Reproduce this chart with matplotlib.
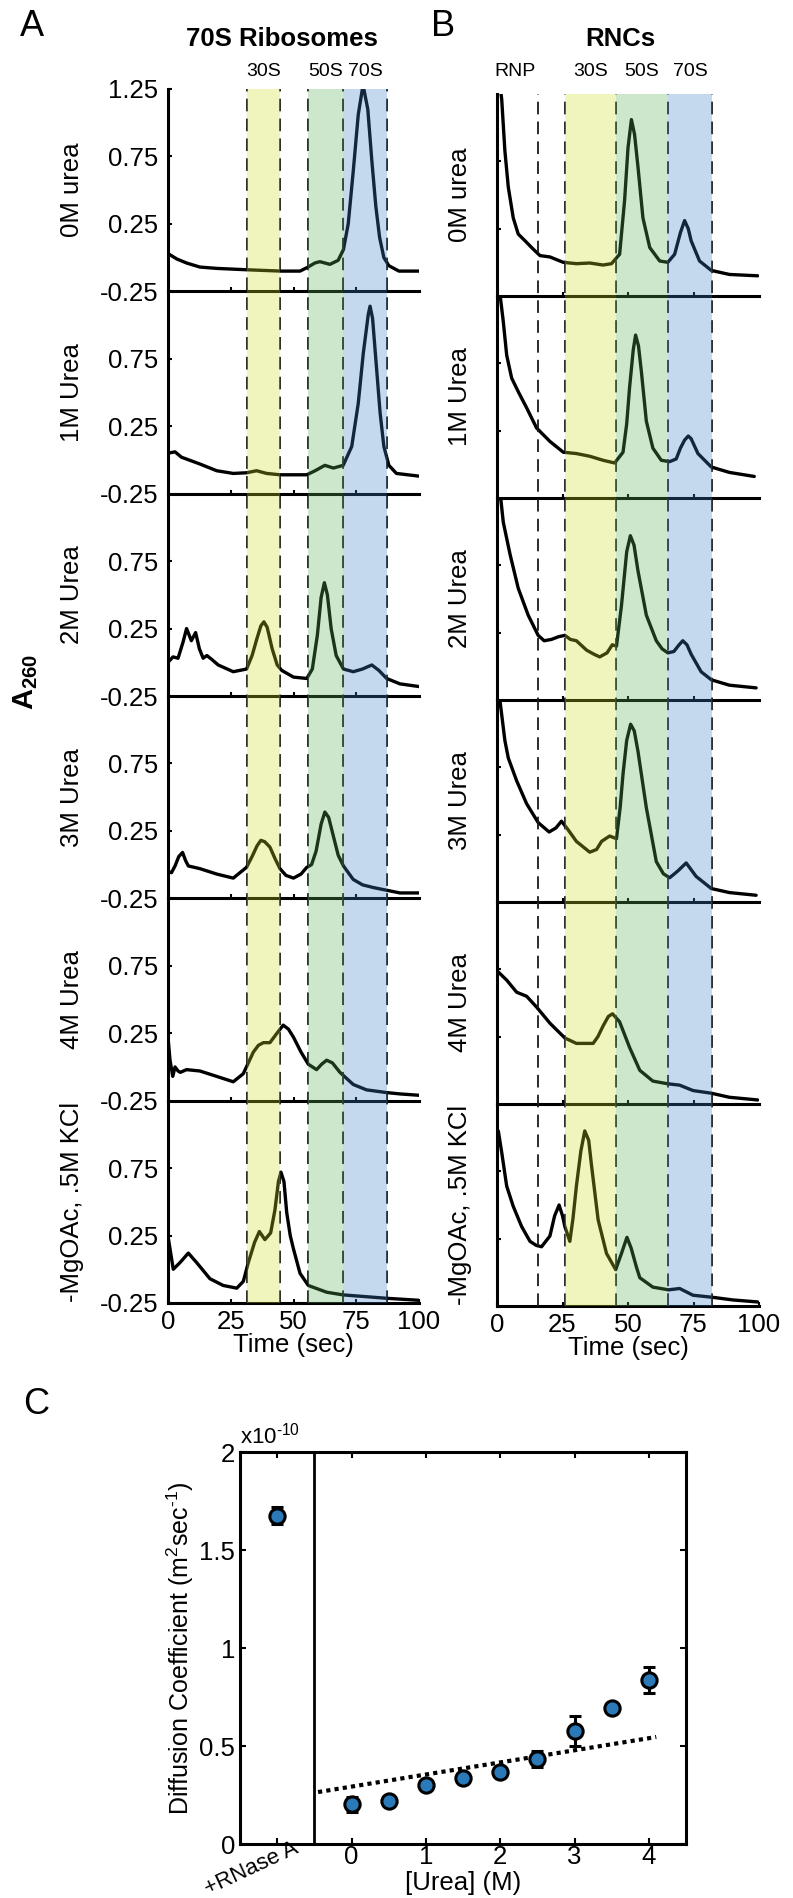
import matplotlib
matplotlib.use('Agg')
import matplotlib.pyplot as plt
from matplotlib.transforms import blended_transform_factory

plt.rcParams['font.family'] = ['Liberation Sans', 'DejaVu Sans']
plt.rcParams['mathtext.fontset'] = 'custom'
plt.rcParams['mathtext.rm'] = 'Liberation Sans'
plt.rcParams['mathtext.bf'] = 'Liberation Sans:bold'
plt.rcParams['mathtext.it'] = 'Liberation Sans:italic'

# ---- panel A : 70S ribosomes (time in sec, A260) ----
ribo_0M_t = [0, 3.5, 7.4, 12.7, 19.4, 31.3, 45, 52.6, 55.8, 58.5, 60.5, 62.5, 64.5, 67.8, 69.9, 71.8, 73.8, 75.8, 77.7, 79.6, 81.2, 82.8, 84.3, 86, 88, 92, 100]
ribo_0M_a = [0.03, -0.01, -0.04, -0.07, -0.08, -0.09, -0.10, -0.10, -0.07, -0.04, -0.03, -0.04, -0.05, -0.02, 0.06, 0.25, 0.64, 1.06, 1.28, 1.10, 0.72, 0.38, 0.15, 0.00, -0.06, -0.10, -0.10]

ribo_1M_t = [0, 2.8, 5.4, 12.7, 19.4, 26, 31.3, 35.3, 39.3, 44.6, 55.3, 58.6, 62.5, 65.9, 69.8, 73.2, 75.8, 77.8, 79.8, 80.5, 81.5, 83, 84.5, 86, 88, 91, 100]
ribo_1M_a = [0.05, 0.06, 0.02, -0.03, -0.08, -0.10, -0.095, -0.08, -0.10, -0.11, -0.11, -0.08, -0.04, -0.06, -0.04, 0.10, 0.42, 0.79, 1.08, 1.14, 1.05, 0.70, 0.35, 0.10, -0.04, -0.10, -0.12]

ribo_2M_t = [0, 2, 4, 6, 7.4, 9.3, 11, 12.5, 14, 15.5, 17.5, 20, 26, 31.3, 33.5, 35.5, 37, 38.2, 39.5, 41.5, 43.5, 45.3, 50, 55.3, 57.5, 59.5, 61, 62.3, 63.5, 65, 67, 69.9, 73.8, 77.5, 81.2, 84, 87.1, 92.4, 100]
ribo_2M_a = [0.00, 0.04, 0.03, 0.15, 0.25, 0.16, 0.22, 0.10, 0.03, 0.05, 0.02, -0.02, -0.07, -0.05, 0.05, 0.18, 0.27, 0.30, 0.26, 0.10, -0.02, -0.06, -0.11, -0.12, -0.05, 0.20, 0.48, 0.59, 0.50, 0.25, 0.05, -0.05, -0.07, -0.05, -0.02, -0.06, -0.12, -0.16, -0.18]

ribo_3M_t = [0, 1.4, 2.8, 4.3, 5.8, 7, 8.1, 12.7, 19.4, 26, 31.3, 33.5, 35.5, 37, 38.5, 40.6, 42.5, 44.6, 47, 50, 53, 55.3, 57.2, 59, 61, 62.5, 64, 65.9, 67.8, 69.9, 73.8, 77.5, 81.8, 92.4, 100]
ribo_3M_a = [-0.05, -0.06, -0.01, 0.06, 0.09, 0.03, -0.01, -0.03, -0.07, -0.10, -0.02, 0.06, 0.14, 0.18, 0.17, 0.13, 0.05, -0.03, -0.08, -0.10, -0.07, -0.02, 0.00, 0.10, 0.30, 0.39, 0.35, 0.21, 0.07, -0.01, -0.11, -0.15, -0.17, -0.21, -0.21]

ribo_4M_t = [0, 0.8, 1.9, 2.8, 4, 4.9, 7.4, 12.7, 19.4, 26, 30, 32, 34, 36, 38, 40.6, 43, 45.9, 48, 50, 53, 55.9, 59.2, 61.2, 63.2, 65.5, 68.5, 73.8, 79.1, 87.1, 92.4, 100]
ribo_4M_a = [0.22, 0.05, -0.07, 0.00, -0.03, -0.04, -0.02, -0.03, -0.07, -0.11, -0.05, 0.03, 0.11, 0.16, 0.18, 0.18, 0.24, 0.31, 0.28, 0.22, 0.11, 0.02, -0.02, 0.02, 0.05, 0.03, -0.04, -0.13, -0.17, -0.19, -0.20, -0.21]

ribo_kcl_t = [0, 2.1, 4.8, 8.1, 11.4, 16.7, 22, 27.4, 30, 32, 34.5, 36.4, 38.6, 40.9, 42.6, 44, 45, 46.2, 47.3, 48.7, 50, 52.6, 55.9, 63.2, 69.8, 87.1, 100]
ribo_kcl_a = [0.245, 0.00, 0.05, 0.12, 0.05, -0.07, -0.12, -0.14, -0.09, 0.05, 0.20, 0.28, 0.22, 0.27, 0.44, 0.65, 0.72, 0.65, 0.42, 0.25, 0.15, -0.03, -0.12, -0.17, -0.19, -0.215, -0.23]

# ---- panel B : RNCs ----
rnc_0M_t = [0.3, 1.8, 3, 4.3, 6.2, 8.1, 10.7, 13.2, 16.4, 20.2, 25.3, 30.3, 35.4, 40.5, 43.7, 46.8, 48.7, 50, 51.3, 52.5, 53.8, 55.7, 58.3, 62.1, 65.2, 67.8, 70, 71.6, 73, 74.1, 77.3, 81.8, 88.7, 99.5]
rnc_0M_a = [1.45, 1.21, 0.83, 0.56, 0.33, 0.21, 0.16, 0.11, 0.05, 0.04, 0.00, -0.01, -0.005, -0.02, -0.01, 0.06, 0.46, 0.85, 1.06, 0.95, 0.71, 0.33, 0.11, 0.01, 0.00, 0.06, 0.22, 0.31, 0.25, 0.16, 0.01, -0.06, -0.09, -0.10]

rnc_1M_t = [0.3, 2.4, 3.7, 5.6, 8.1, 11.3, 15.1, 20.2, 25.3, 30.3, 35.4, 40.5, 44.9, 48.1, 49.5, 50.6, 52, 52.9, 54, 55.1, 57, 59.5, 62.7, 65.9, 68.4, 70, 71.6, 73, 74.1, 76.7, 81.8, 88.7, 98.2]
rnc_1M_a = [1.40, 1.06, 0.81, 0.64, 0.54, 0.42, 0.27, 0.17, 0.09, 0.08, 0.06, 0.03, 0.01, 0.09, 0.30, 0.57, 0.85, 0.96, 0.88, 0.69, 0.32, 0.12, 0.03, 0.02, 0.04, 0.12, 0.18, 0.21, 0.19, 0.08, -0.02, -0.06, -0.09]

rnc_2M_t = [0.3, 2.4, 5, 8.1, 11.9, 15.7, 18, 20.8, 23.5, 25.9, 28, 30.3, 34.2, 37, 39.2, 42, 44, 45.6, 47.5, 49.5, 50.9, 52.3, 53.8, 57, 60.8, 63, 65.2, 67.5, 69.5, 70.9, 72.5, 74.1, 77.9, 81.8, 88.7, 98.9]
rnc_2M_a = [1.45, 1.07, 0.83, 0.58, 0.38, 0.23, 0.19, 0.20, 0.22, 0.23, 0.20, 0.19, 0.12, 0.09, 0.07, 0.10, 0.16, 0.15, 0.45, 0.85, 0.97, 0.90, 0.71, 0.38, 0.19, 0.13, 0.10, 0.11, 0.16, 0.19, 0.16, 0.09, -0.04, -0.10, -0.14, -0.16]

rnc_3M_t = [0.5, 1.1, 3, 4.3, 7.5, 11.3, 15.7, 19.9, 22.5, 24.6, 27, 30.3, 35.4, 38, 39.9, 43, 45.6, 47, 48.1, 49.5, 51, 52.4, 53.8, 57, 60.8, 63.5, 65.9, 69, 72.2, 76, 81.8, 88.7, 98.9]
rnc_3M_a = [1.45, 1.25, 0.95, 0.82, 0.65, 0.48, 0.34, 0.27, 0.30, 0.35, 0.29, 0.20, 0.12, 0.14, 0.20, 0.24, 0.22, 0.45, 0.70, 0.95, 1.07, 1.02, 0.87, 0.45, 0.05, -0.04, -0.07, -0.02, 0.04, -0.06, -0.15, -0.18, -0.20]

rnc_4M_t = [0.5, 3.7, 7.5, 11.3, 15.1, 20.2, 25.9, 30.3, 33, 36.7, 38.5, 40.5, 42.5, 44.1, 46.8, 50.6, 54.5, 59.5, 65.2, 69.7, 74.8, 81.8, 88.7, 99.5]
rnc_4M_a = [0.73, 0.67, 0.58, 0.55, 0.47, 0.35, 0.24, 0.20, 0.20, 0.20, 0.25, 0.33, 0.40, 0.42, 0.36, 0.17, 0.00, -0.08, -0.10, -0.11, -0.15, -0.17, -0.20, -0.22]

rnc_kcl_t = [0.5, 1.8, 3.7, 6.2, 9.4, 12.6, 15, 17, 20.2, 22, 23.7, 25, 25.9, 27.8, 29, 30.3, 32, 33.5, 35, 36.1, 38.6, 41.8, 45.3, 47.5, 49.6, 51.2, 53.2, 54.5, 59.5, 65.5, 69.7, 74.8, 82.1, 90, 99.5]
rnc_kcl_a = [1.05, 0.89, 0.64, 0.49, 0.34, 0.23, 0.20, 0.19, 0.27, 0.42, 0.50, 0.42, 0.34, 0.23, 0.40, 0.64, 0.90, 1.05, 0.98, 0.79, 0.39, 0.14, 0.02, 0.14, 0.26, 0.18, 0.04, -0.04, -0.11, -0.13, -0.12, -0.17, -0.185, -0.205, -0.22]

row_labels = ['0M urea', '1M Urea', '2M Urea', '3M Urea', '4M Urea', '-MgOAc, .5M KCl']

# band edges (sec)
ribo_bands = [(31.5, 44.5), (55.9, 69.7), (69.7, 87.2)]
ribo_dashes = [31.5, 44.5, 55.9, 69.7, 87.2]
ribo_band_names = ['30S', '50S', '70S']
rnc_bands = [(26.0, 45.3), (45.3, 65.4), (65.4, 82.0)]
rnc_dashes = [15.7, 26.0, 45.3, 65.4, 82.0]
rnc_band_names = ['RNP', '30S', '50S', '70S']
rnc_name_pos = [7.0, 35.6, 55.3, 73.7]

# ---- panel C : diffusion coefficient (x1e-10) ----
urea_conc = [0, 0.5, 1, 1.5, 2, 2.5, 3, 3.5, 4]
diff_coef = [0.202, 0.219, 0.303, 0.339, 0.369, 0.435, 0.575, 0.695, 0.836]
diff_err = [0.04, 0.02, 0.02, 0.02, 0.02, 0.04, 0.077, 0.02, 0.065]
rnase_pos = -1
rnase_coef = 1.675
rnase_err = 0.044
fit_x = [-0.45, 4.1]
fit_y = [0.265, 0.546]

band_colors = ['#cdde26', '#58b258', '#3e84c6']

W, H = 793, 1898
fig = plt.figure(figsize=(W / 100, H / 100), dpi=100)


def fax(l, t, w, h, **kw):
    return fig.add_axes([l / W, 1 - (t + h) / H, w / W, h / H], **kw)


def panel(left, top, width, bottom, traces, labels_on):
    h = (bottom - top) / 6
    axes = []
    for i, (tt, aa) in enumerate(traces):
        ax = fax(left, top + i * h, width, h)
        ax.plot(tt, aa, color='k', lw=2.4, solid_joinstyle='round', solid_capstyle='round')
        ax.set_xlim(0, 100)
        ax.set_ylim(-0.25, 1.25)
        ax.patch.set_visible(False)
        for s in ['top', 'right']:
            ax.spines[s].set_visible(False)
        for s in ['left', 'bottom']:
            ax.spines[s].set_linewidth(2.2)
        ax.tick_params(direction='in', length=3, width=1.5, labelsize=18.5)
        ax.set_xticks([25, 50, 75])
        ax.set_xticklabels([])
        if labels_on:
            if i == 0:
                ax.set_yticks([-0.25, 0.25, 0.75, 1.25])
            else:
                ax.set_yticks([-0.25, 0.25, 0.75])
            ax.set_yticklabels(['%g' % v for v in ax.get_yticks()])
            ax.tick_params(axis='y', pad=7)
        else:
            ax.set_yticks([0.25, 0.75])
            ax.set_yticklabels([])
        axes.append(ax)
    last = axes[-1]
    last.set_xticks([0, 25, 50, 75, 100])
    last.set_xticklabels(['0', '25', '50', '75', '100'])
    last.tick_params(axis='x', pad=5)
    last.set_xlabel('Time (sec)', fontsize=18.5, labelpad=-1)
    # overlay for bands and dashed lines
    ov = fax(left, top, width, bottom - top, zorder=10)
    ov.set_xlim(0, 100)
    ov.set_ylim(0, 1)
    ov.axis('off')
    return axes, ov


ribo_traces = [(ribo_0M_t, ribo_0M_a), (ribo_1M_t, ribo_1M_a), (ribo_2M_t, ribo_2M_a),
               (ribo_3M_t, ribo_3M_a), (ribo_4M_t, ribo_4M_a), (ribo_kcl_t, ribo_kcl_a)]
rnc_traces = [(rnc_0M_t, rnc_0M_a), (rnc_1M_t, rnc_1M_a), (rnc_2M_t, rnc_2M_a),
              (rnc_3M_t, rnc_3M_a), (rnc_4M_t, rnc_4M_a), (rnc_kcl_t, rnc_kcl_a)]

A_l, A_t, A_w, A_b = 168, 89, 251, 1303
B_l, B_t, B_w, B_b = 497, 94, 262, 1306

axA, ovA = panel(A_l, A_t, A_w, A_b, ribo_traces, True)
axB, ovB = panel(B_l, B_t, B_w, B_b, rnc_traces, False)

for ov, bands, dashes in [(ovA, ribo_bands, ribo_dashes), (ovB, rnc_bands, rnc_dashes)]:
    for d in dashes:
        ov.axvline(d, color='#1a1a1a', lw=1.3, dashes=(7, 4), zorder=1)
    for (x0, x1), c in zip(bands, band_colors):
        ov.axvspan(x0, x1, color=c, alpha=0.3, lw=0, zorder=2)

# band names
for name, (x0, x1) in zip(ribo_band_names, ribo_bands):
    fig.text((A_l + A_w * (x0 + x1) / 200) / W, 1 - 72 / H, name, ha='center', va='center', fontsize=14)
for name, xp in zip(rnc_band_names, rnc_name_pos):
    fig.text((B_l + B_w * xp / 100) / W, 1 - 72 / H, name, ha='center', va='center', fontsize=14)

fig.text(282 / W, 1 - 39 / H, '70S Ribosomes', ha='center', va='center', fontsize=18.5, fontweight='bold')
fig.text(620 / W, 1 - 39 / H, 'RNCs', ha='center', va='center', fontsize=18.5, fontweight='bold')
fig.text(32 / W, 1 - 27 / H, 'A', ha='center', va='center', fontsize=26)
fig.text(443 / W, 1 - 27 / H, 'B', ha='center', va='center', fontsize=26)
fig.text(36 / W, 1 - 1404 / H, 'C', ha='center', va='center', fontsize=26)

# row labels
hA = (A_b - A_t) / 6
hB = (B_b - B_t) / 6
for i, lab in enumerate(row_labels):
    fig.text(72 / W, 1 - (A_t + (i + 0.5) * hA) / H, lab, rotation=90, ha='center', va='center', fontsize=18.5)
    fig.text(460 / W, 1 - (B_t + (i + 0.5) * hB) / H, lab, rotation=90, ha='center', va='center', fontsize=18.5)

fig.text(26 / W, 1 - 682 / H, r'$\mathbf{A_{260}}$', rotation=90, ha='center', va='center', fontsize=21)

# ---- panel C ----
narrow = ['Liberation Sans Narrow', 'Liberation Sans', 'DejaVu Sans']
C_l, C_t, C_r, C_b = 240, 1452, 686, 1844
axC = fax(C_l, C_t, C_r - C_l, C_b - C_t)
axC.axvline(-0.5, color='k', lw=2)
axC.plot(fit_x, fit_y, linestyle=(0, (1, 1)), color='k', lw=3)
axC.errorbar(urea_conc, diff_coef, yerr=diff_err, fmt='o', mfc='#2a7ab9', mec='k', mew=2.2, ms=11,
             ecolor='k', elinewidth=2.2, capsize=4, capthick=2.2, zorder=5)
axC.errorbar([rnase_pos], [rnase_coef], yerr=[rnase_err], fmt='o', mfc='#2a7ab9', mec='k', mew=2.2, ms=11,
             ecolor='k', elinewidth=2.2, capsize=4, capthick=2.2, zorder=5)
axC.set_xlim(-1.5, 4.5)
axC.set_ylim(0, 2)
axC.set_xticks([-1, 0, 1, 2, 3, 4])
axC.set_xticklabels(['', '0', '1', '2', '3', '4'], family=narrow, fontsize=18.5)
# rotated label for the +RNase A control
tr = blended_transform_factory(axC.transData, axC.transAxes)
axC.text(rnase_pos + 0.27, -0.008, '+RNase A', transform=tr, rotation=25, ha='right', va='center',
         rotation_mode='anchor', family=narrow, fontsize=16)
axC.set_yticks([0, 0.5, 1, 1.5, 2])
axC.set_yticklabels(['0', '0.5', '1', '1.5', '2'], family=narrow, fontsize=18.5)
axC.tick_params(direction='in', length=4, width=1.5, top=True, right=True)
axC.tick_params(axis='x', pad=1)
for s in axC.spines.values():
    s.set_linewidth(2.2)
axC.set_ylabel(r'Diffusion Coefficient (m$^{2}$sec$^{\text{-}1}$)', family=narrow, fontsize=18, labelpad=2)
axC.set_xlabel('[Urea] (M)', family=narrow, fontsize=18.5)
axC.xaxis.set_label_coords(0.5, -0.068)
axC.text(0.0, 1.01, r'x10$^{\text{-}10}$', transform=axC.transAxes, family=narrow, fontsize=16, ha='left', va='bottom')

fig.savefig('out.png', dpi=100)
